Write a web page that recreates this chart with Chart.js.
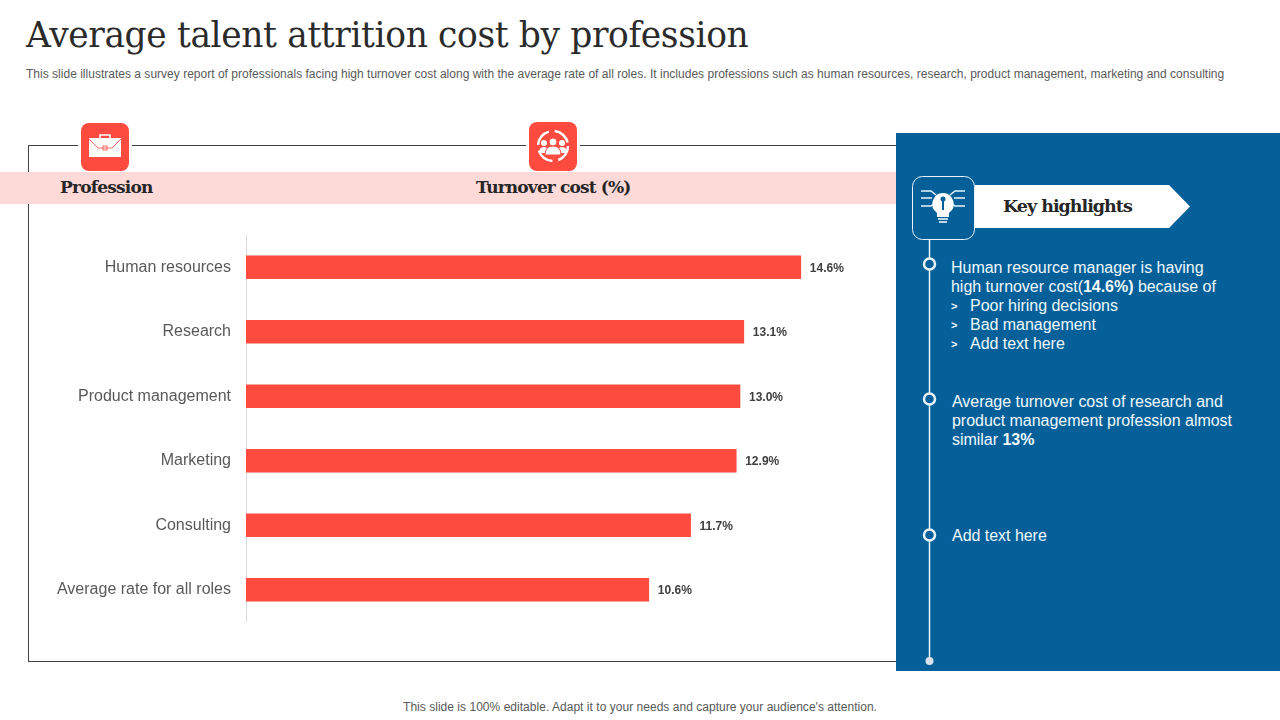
<!DOCTYPE html>
<html>
<head>
<meta charset="utf-8">
<script src="https://cdn.jsdelivr.net/npm/chart.js@4"></script>
<style>
html, body { margin: 0; padding: 0; background: #fff; }
#slide { position: relative; width: 1280px; height: 720px; overflow: hidden; font-family: "Liberation Sans", sans-serif; }
#slide > * { position: absolute; }
.t { white-space: nowrap; line-height: 20px; }
.serif { font-family: "DejaVu Serif", serif; font-weight: bold; color: #262626; }
.w { color: #eef8fd; font-size: 16px; letter-spacing: -0.03px; }
.icon { background: #fd4b40; border-radius: 8px; box-shadow: 0 0 0 3px #fff; }
</style>
</head>
<body>
<div id="slide">
  <div class="t" style="left:26px;top:15px;line-height:40px;font-family:'DejaVu Serif',serif;font-size:34.500px;letter-spacing:-0.38px;color:#2b2b2b">Average talent attrition cost by profession</div>
  <div class="t" style="left:26px;top:64px;font-size:12px;letter-spacing:0.013px;color:#595959">This slide illustrates a survey report of professionals facing high turnover cost along with the average rate of all roles. It includes professions such as human resources, research, product management, marketing and consulting</div>

  <div style="left:28px;top:145px;width:868px;height:517px;border:1px solid #404040;box-sizing:border-box;border-right:0"></div>

  <div class="icon" style="left:81px;top:123px;width:48px;height:48px">
    <svg width="48" height="48" viewBox="0 0 48 48"><path d="M19 15v-3h10v3" fill="none" stroke="#fff" stroke-width="1.5"/><rect x="8" y="15" width="32" height="19" fill="#fff"/><path d="M8 16l9 9h14l9-9" fill="none" stroke="#fd4b40" stroke-width="0.8"/><rect x="22" y="23" width="4" height="4" fill="none" stroke="#fd4b40" stroke-width="0.8"/></svg>
  </div>
  <div class="icon" style="left:529px;top:122px;width:48px;height:49px">
    <svg width="48" height="49" viewBox="0 0 48 49"><circle cx="24" cy="24" r="15" fill="none" stroke="#fff" stroke-width="2.500" stroke-dasharray="18 6"/><circle cx="15" cy="21" r="3" fill="#fff"/><circle cx="33" cy="21" r="3" fill="#fff"/><path d="M10 31q0-6 5-6t5 6zM28 31q0-6 5-6t5 6z" fill="#fff"/><circle cx="24" cy="20" r="4" fill="#fff" stroke="#fd4b40"/><path d="M16 33q0-9 8-9t8 9z" fill="#fff" stroke="#fd4b40"/></svg>
  </div>

  <div style="left:0;top:172px;width:896px;height:32px;background:#fdd9d8"></div>
  <div class="t serif" style="left:60px;top:177px;font-size:17px;letter-spacing:-0.8px">Profession</div>
  <div class="t serif" style="left:476px;top:177px;font-size:17px;letter-spacing:-0.85px">Turnover cost (%)</div>

  <div style="left:0;top:235px;width:880px;height:387px"><canvas id="chart"></canvas></div>

  <div style="left:896px;top:133px;width:384px;height:538px;background:#056099"></div>
  <svg style="left:896px;top:133px" width="384" height="538" viewBox="896 133 384 538">
    <line x1="929.5" y1="240" x2="929.5" y2="661" stroke="#e6f3fa" stroke-width="1.5"/>
    <circle cx="929.5" cy="264" r="5.5" fill="#056099" stroke="#e6f3fa" stroke-width="2.5"/>
    <circle cx="929.5" cy="399" r="5.5" fill="#056099" stroke="#e6f3fa" stroke-width="2.5"/>
    <circle cx="929.5" cy="535" r="5.5" fill="#056099" stroke="#e6f3fa" stroke-width="2.5"/>
    <circle cx="929.5" cy="661" r="4" fill="#d9e1ea"/>
    <path d="M975 185H1169L1190 206.500L1169 228H975Z" fill="#fff"/>
    <rect x="912.500" y="176.500" width="62" height="63" rx="10" fill="#056099" stroke="#e6f3fa"/>
    <g fill="none" stroke="#e6f3fa" stroke-width="1.5">
      <path d="M921 191h10l5 4M921 198h11M921 206h10l4-3M965 191h-10l-5 4M965 198h-11M965 206h-10l-4-3"/>
    </g>
    <path d="M943 193a11 11 0 0 1 6 20v4h-12v-4a11 11 0 0 1 6-20z" fill="#fff"/>
    <path d="M943 197v13" stroke="#056099" stroke-width="2"/>
    <circle cx="943" cy="199" r="2.500" fill="#056099"/>
    <path d="M938 219h10M939 222h8" stroke="#fff" stroke-width="1.500"/>
  </svg>
  <div class="t serif" style="left:1003px;top:196px;font-size:17.500px;letter-spacing:-1px">Key highlights</div>

  <div class="t w" style="left:951px;top:258px">Human resource manager is having</div>
  <div class="t w" style="left:951px;top:277px">high turnover cost(<b>14.6%)</b> because of</div>
  <div class="t w" style="left:951px;top:296px;font-size:11px"><b>&gt;</b></div>
  <div class="t w" style="left:970px;top:296px">Poor hiring decisions</div>
  <div class="t w" style="left:951px;top:315px;font-size:11px"><b>&gt;</b></div>
  <div class="t w" style="left:970px;top:315px">Bad management</div>
  <div class="t w" style="left:951px;top:334px;font-size:11px"><b>&gt;</b></div>
  <div class="t w" style="left:970px;top:334px">Add text here</div>
  <div class="t w" style="left:952px;top:392px">Average turnover cost of research and</div>
  <div class="t w" style="left:952px;top:411px">product management profession almost</div>
  <div class="t w" style="left:952px;top:430px">similar <b>13%</b></div>
  <div class="t w" style="left:952px;top:526px">Add text here</div>

  <div class="t" style="left:0;width:1280px;text-align:center;top:697px;font-size:12px;letter-spacing:0.03px;color:#595959">This slide is 100% editable. Adapt it to your needs and capture your audience's attention.</div>
</div>

<script>
// данные графика
const professions = ["Human resources", "Research", "Product management", "Marketing", "Consulting", "Average rate for all roles"];
const turnoverCost = [14.6, 13.1, 13.0, 12.9, 11.7, 10.6];

// подписи значений справа от столбцов
const valueLabels = {
    id: 'valueLabels',
    afterDatasetsDraw(chart) {
        const ctx = chart.ctx;
        ctx.save();
        ctx.font = 'bold 12px "Liberation Sans"';
        ctx.fillStyle = '#404040';
        ctx.textBaseline = 'middle';
        chart.getDatasetMeta(0).data.forEach((bar, i) => {
            ctx.fillText(turnoverCost[i].toFixed(1) + '%', bar.x + 9, bar.y + 1);
        });
        ctx.restore();
    }
};

Chart.defaults.devicePixelRatio = 1;

new Chart(document.getElementById("chart"), {
    type: 'bar',
    data: {
        labels: professions,
        datasets: [{
            data: turnoverCost,
            backgroundColor: '#fd4b40',
            barThickness: 23
        }]
    },
    options: {
        indexAxis: 'y',
        responsive: true,
        maintainAspectRatio: false,
        animation: false,
        layout: {padding: {right: 26}},
        plugins: {
            legend: {display: false},
            tooltip: {enabled: false}
        },
        scales: {
            x: {
                display: false,
                min: 0,
                max: 16
            },
            y: {
                // ось на всю высоту, без запаса под подписи
                afterFit(scale) {
                    scale.width = 246;
                    scale.paddingTop = 0;
                    scale.paddingBottom = 0;
                },
                border: {color: '#d9d9d9'},
                grid: {display: false},
                ticks: {
                    color: '#595959',
                    padding: 7,
                    font: {family: '"Liberation Sans"', size: 16}
                }
            }
        }
    },
    plugins: [valueLabels]
});
</script>
</body>
</html>
